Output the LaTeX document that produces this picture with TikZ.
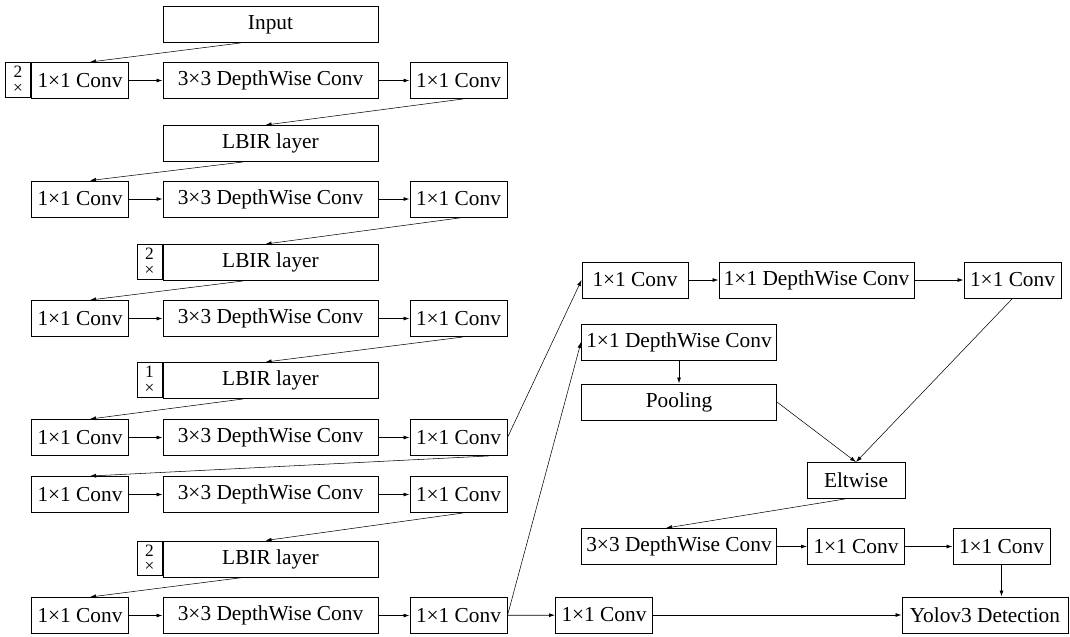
\documentclass[tikz,border=0pt]{standalone}
\usepackage{fontspec}
\setmainfont{Liberation Serif}
\usetikzlibrary{calc,positioning,arrows.meta}

\begin{document}
\begin{tikzpicture}[x=0.75pt,y=-0.75pt,
  blk/.style={draw, line width=0.7pt, minimum height=27pt, inner sep=0pt, font=\fontsize{16}{19}\selectfont},
  narrow/.style={blk, minimum width=72.75pt},
  wide/.style={blk, minimum width=161.25pt},
  wideR/.style={blk, minimum width=146.25pt},
  mult/.style={draw, line width=0.7pt, minimum width=18.75pt, minimum height=26pt, inner sep=0pt, align=center, font=\fontsize{13}{12.5}\selectfont, anchor=north east},
  flow/.style={-{Latex[length=4.5pt,width=3pt]}, line width=0.6pt},
  link/.style={-{Latex[length=4.5pt,width=3pt]}, line width=0.4pt}]
\path[use as bounding box] (0,0) rectangle (1070,636);

% left column
\node[wide] (inp) at (270.5,24.5) {Input};
\foreach \i/\y in {1/80.5,2/199,3/318.5,4/437.5,5/494.5,6/615.5}{
  \node[narrow] (a\i) at (80,\y) {1×1 Conv};
  \node[wide] (b\i) at (270.5,\y) {3×3 DepthWise Conv};
  \node[narrow] (c\i) at (458.5,\y) {1×1 Conv};
  \draw[flow] (a\i) -- (b\i);
  \draw[flow] (b\i) -- (c\i);
}
\foreach \i/\y in {1/143.5,2/262.5,3/380.5,4/559}
  \node[wide] (L\i) at (270.5,\y) {LBIR layer};

\node[mult] (k1) at (a1.north west) {2\\[-1pt]×};
\node[mult] (k2) at (L2.north west) {2\\[-1pt]×};
\node[mult] (k3) at (L3.north west) {1\\[-1pt]×};
\node[mult] (k4) at (L4.north west) {2\\[-1pt]×};

\draw[link] ($(inp.south)+(-30,0)$) -- ($(a1.north)+(10,0)$);
\foreach \c/\l in {c1/L1,c2/L2,c3/L3,c5/L4}
  \draw[link] ($(\c.south)+(4.5,0)$) -- ($(\l.north)+(-5,0)$);
\foreach \l/\a in {L1/a2,L2/a3,L3/a4,L4/a6}
  \draw[link] ($(\l.south)+(-27.5,0)$) -- ($(\a.north)+(10,0)$);
\draw[link] ($(c4.south)+(30,0)$) -- ($(a5.north)+(10,0)$);

% right part
\node[blk, minimum width=79.5pt] (r1) at (635,280) {1×1 Conv};
\node[wideR] (r2) at (816.5,280) {1×1 DepthWise Conv};
\node[narrow] (r3) at (1012.5,280) {1×1 Conv};
\node[wideR] (d1) at (679,342) {1×1 DepthWise Conv};
\node[wideR] (pool) at (679,402) {Pooling};
\node[blk, minimum width=73.5pt] (elt) at (856,480.5) {Eltwise};
\node[wideR] (d2) at (679,546.5) {3×3 DepthWise Conv};
\node[narrow] (m1) at (856,546.5) {1×1 Conv};
\node[narrow] (m2) at (1001.5,546.5) {1×1 Conv};
\node[narrow] (s1) at (604,615) {1×1 Conv};
\node[blk, minimum width=124.5pt] (yolo) at (985,615) {Yolov3 Detection};

\draw[link] (c4.east) -- (r1.west);
\draw[link] (c6.east) -- (d1.west);
\draw[flow] (c6) -- (s1);
\draw[flow] (r1) -- (r2);
\draw[flow] (r2) -- (r3);
\draw[flow] (d1) -- (pool);
\draw[link] (pool.east) -- (elt.north);
\draw[link] (r3.south) -- (elt.north);
\draw[link] ($(elt.south)+(-11,0)$) -- ($(d2.north)+(-13,0)$);
\draw[flow] (d2) -- (m1);
\draw[flow] (m1) -- (m2);
\draw[flow] (m2.south) -- (m2.south |- yolo.north);
\draw[flow] (s1) -- (yolo);
\end{tikzpicture}
\end{document}
